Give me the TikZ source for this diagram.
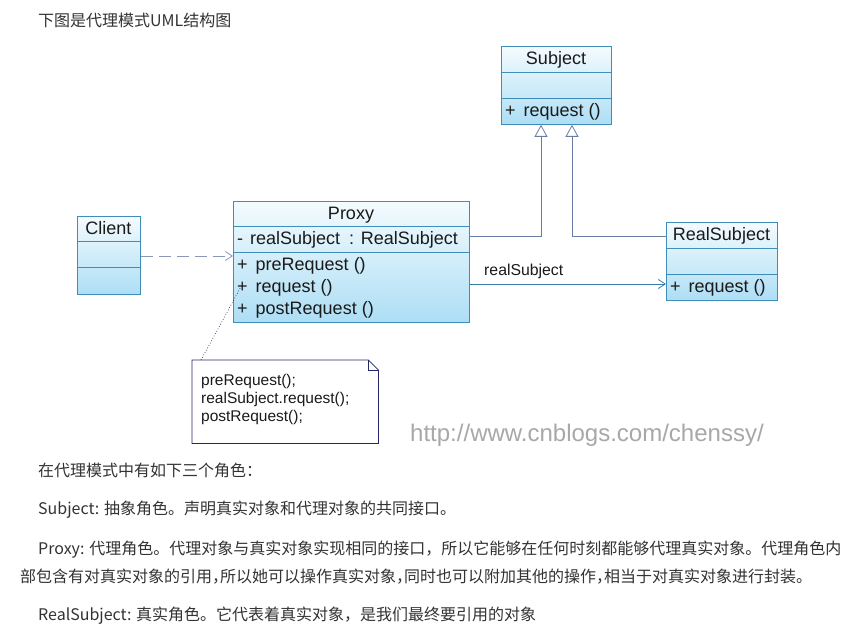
\documentclass[tikz,border=0pt]{standalone}
\usepackage{fontspec}
\setmainfont{Liberation Sans}
\newfontfamily\cjk{Noto Sans CJK SC}
\newfontfamily\cjkh[RawFeature=+halt]{Noto Sans CJK SC}
\usetikzlibrary{arrows.meta}
\definecolor{boxtop}{HTML}{F4FBFE}
\definecolor{boxbot}{HTML}{ADDEF5}
\definecolor{boxline}{HTML}{3F8DB8}
\definecolor{umltxt}{HTML}{1A1A1A}
\definecolor{inhline}{HTML}{6A7CA6}
\definecolor{assline}{HTML}{3A7DA8}
\definecolor{depline}{HTML}{8898B8}
\definecolor{noteline}{HTML}{25256A}
\definecolor{parat}{HTML}{333333}
\definecolor{wmark}{HTML}{A8A8A8}
\tikzset{
  umlbox/.style={draw=boxline, line width=0.8pt, top color=boxtop, bottom color=boxbot, anchor=north west, inner sep=0pt},
  sepline/.style={draw=boxline, line width=0.8pt},
  umltext/.style={font=\fontsize{18}{20}\selectfont, text=umltxt, inner sep=0pt, anchor=base west},
  umltitle/.style={font=\fontsize{18}{20}\selectfont, text=umltxt, inner sep=0pt, anchor=base},
  notetext/.style={font=\fontsize{15.5}{18}\selectfont, text=umltxt, inner sep=0pt, anchor=base west},
  inherit/.style={draw=inhline, line width=0.8pt, -{Triangle[open, length=12pt, width=13pt, fill=white]}},
  assoc/.style={draw=assline, line width=0.8pt, -{Straight Barb[length=7pt, width=9pt]}},
  depend/.style={draw=depline, line width=0.8pt, dash pattern=on 12pt off 6pt, -{Straight Barb[length=7pt, width=9pt]}},
  para/.style={font=\cjk\fontsize{16}{18}\selectfont, text=parat, inner sep=0pt, anchor=base west},
}
\begin{document}
\begin{tikzpicture}[x=1pt,y=-1pt]
\useasboundingbox[fill=white] (0,0) rectangle (860,636);

% title
\node[para] (title) at (38,27) {下图是代理模式UML结构图};

% Subject
\node[umlbox, minimum width=110pt, minimum height=78pt] (subject) at (501,46) {};
\draw[sepline] ([yshift=-26pt]subject.north west) -- ([yshift=-26pt]subject.north east);
\draw[sepline] ([yshift=-52pt]subject.north west) -- ([yshift=-52pt]subject.north east);
\node[umltitle] (subjectname) at (556,65) {Subject};
\node[umltext] (subjectop) at (505,117) {+\hspace{8pt}request ()};

% Client
\node[umlbox, minimum width=63pt, minimum height=78pt] (client) at (77,216) {};
\draw[sepline] ([yshift=-25pt]client.north west) -- ([yshift=-25pt]client.north east);
\draw[sepline] ([yshift=-51pt]client.north west) -- ([yshift=-51pt]client.north east);
\node[umltitle] (clientname) at (108.5,235) {Client};

% Proxy
\node[umlbox, minimum width=236pt, minimum height=121pt] (proxy) at (233,201) {};
\draw[sepline] ([yshift=-25pt]proxy.north west) -- ([yshift=-25pt]proxy.north east);
\draw[sepline] ([yshift=-51pt]proxy.north west) -- ([yshift=-51pt]proxy.north east);
\node[umltitle] (proxyname) at (351,220) {Proxy};
\node[umltext] (proxyattr) at (237,245) {-\hspace{7pt}realSubject\hspace{9pt}: RealSubject};
\node[umltext] (proxyop1) at (237,271) {+\hspace{8pt}preRequest ()};
\node[umltext] (proxyop2) at (237,293) {+\hspace{8pt}request ()};
\node[umltext] (proxyop3) at (237,315) {+\hspace{8pt}postRequest ()};

% RealSubject
\node[umlbox, minimum width=111pt, minimum height=78pt] (real) at (666,222) {};
\draw[sepline] ([yshift=-26pt]real.north west) -- ([yshift=-26pt]real.north east);
\draw[sepline] ([yshift=-52pt]real.north west) -- ([yshift=-52pt]real.north east);
\node[umltitle] (realname) at (721.5,241) {RealSubject};
\node[umltext] (realop) at (670,293) {+\hspace{8pt}request ()};

% inheritance
\coordinate (j1) at (541,236);
\coordinate (j2) at (572,236);
\draw[inherit] (proxy.east |- j1) -- (j1) -- (subject.south -| j1);
\draw[inherit] (real.west |- j2) -- (j2) -- (subject.south -| j2);

% association
\coordinate (a1) at (0,284);
\draw[assoc] (proxy.east |- a1) -- (real.west |- a1);
\node[font=\fontsize{15.8}{18}\selectfont, text=umltxt, inner sep=0pt, anchor=base west] (assoclabel) at (484,276) {realSubject};

% dependency
\coordinate (d1) at (0,256);
\draw[depend] (client.east |- d1) -- (proxy.west |- d1);

% note
\node[draw=none, minimum width=186pt, minimum height=83pt, anchor=north west, inner sep=0pt] (note) at (192,360) {};
\draw[noteline, line width=0.8pt, fill=white] (note.north west) -- ([xshift=-10pt]note.north east) -- ([yshift=-10pt]note.north east) -- (note.south east) -- (note.south west) -- cycle;
\draw[noteline, line width=0.6pt] ([xshift=-10pt]note.north east) |- ([yshift=-10pt]note.north east);
\node[notetext] (n1) at (201,385) {preRequest();};
\node[notetext] (n2) at (201,403) {realSubject.request();};
\node[notetext] (n3) at (201,421) {postRequest();};
\coordinate (anchorpt) at (243,283);
\draw[noteline, line width=0.7pt, dotted] ([xshift=9pt]note.north west) -- (anchorpt);

% watermark
\node[font=\fontsize{24}{28}\selectfont, text=wmark, inner sep=0pt, anchor=base west] (wm) at (410,441) {http://www.cnblogs.com/chenssy/};

% paragraphs
\node[para] (p1) at (38,476) {在代理模式中有如下三个角色：};
\node[para] (p2) at (38,514) {Subject: 抽象角色。声明真实对象和代理对象的共同接口。};
\node[para] (p3) at (38,554) {Proxy: 代理角色。代理对象与真实对象实现相同的接口，所以它能够在任何时刻都能够代理真实对象。代理角色内};
\node[para] (p4) at (20,582) {\cjk 部包含有对真实对象的引用{\cjkh ，}所以她可以操作真实对象{\cjkh ，}同时也可以附加其他的操作{\cjkh ，}相当于对真实对象进行封装。};
\node[para] (p5) at (38,620) {RealSubject: 真实角色。它代表着真实对象，是我们最终要引用的对象};
\end{tikzpicture}
\end{document}
